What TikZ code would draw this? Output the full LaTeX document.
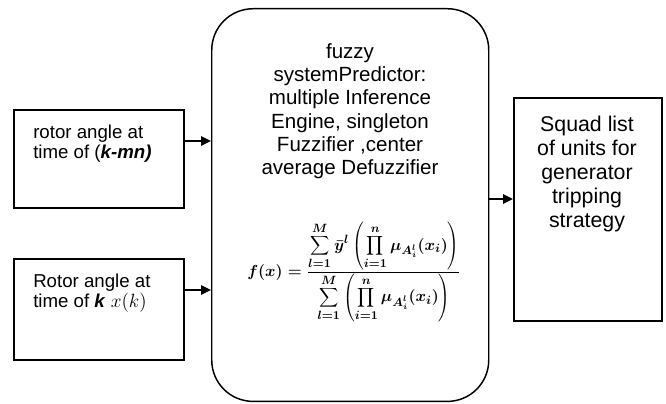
\documentclass[tikz,border=0pt]{standalone}
\usepackage{fontspec}
\setmainfont{Liberation Sans}
\usetikzlibrary{arrows.meta}
\newcommand\fzformula{\ensuremath{\displaystyle f(x)=\frac{\displaystyle\sum_{l=1}^{M}\bar{y}^{l}\left(\prod_{i=1}^{n}\mu_{A_i^l}(x_i)\right)}{\displaystyle\sum_{l=1}^{M}\left(\prod_{i=1}^{n}\mu_{A_i^l}(x_i)\right)}}}
\begin{document}
\begin{tikzpicture}[x=0.75pt,y=-0.75pt,
  box/.style={draw=black,line width=1.5pt,rectangle,anchor=north west,inner sep=0pt},
  mainbox/.style={draw=black,line width=1.1pt,rectangle,rounded corners=31pt,anchor=north west,inner sep=0pt},
  arr/.style={line width=1.5pt,-{Triangle[length=7.5pt,width=7pt]}},
  ltxt/.style={anchor=north west,inner sep=0pt,align=left,font=\fontsize{14}{15}\selectfont},
]
\useasboundingbox (0,0) rectangle (666,403);
\node[box,minimum width=127.5pt,minimum height=73.5pt] (b1) at (13,109) {};
\node[box,minimum width=127.5pt,minimum height=75.75pt] (b2) at (13,258) {};
\node[mainbox,minimum width=207.75pt,minimum height=294.5pt] (m) at (211,8) {};
\node[box,minimum width=111pt,minimum height=167.25pt] (r) at (513,97) {};

\node[ltxt] (t1) at (33,124.5) {rotor angle at\\time of (\textbf{\textit{k-mn)}}};
\node[ltxt] (t2) at (33,273.6) {Rotor angle at\\time of \textbf{\textit{k}} $x(k)$};
\node[anchor=north,inner sep=0pt,align=center,font=\fontsize{15.4}{17.5}\selectfont] (tm) at (350,43)
  {fuzzy\\systemPredictor:\\multiple Inference\\Engine, singleton\\Fuzzifier ,center\\average Defuzzifier};
\node[anchor=north,inner sep=0pt,align=center,font=\fontsize{16}{18}\selectfont] (tr) at (587,116)
  {Squad list\\of units for\\generator\\tripping\\strategy};
\node[anchor=west,inner sep=0pt,font=\fontsize{13}{15}\selectfont\boldmath] (formula) at (247,272) {\fzformula};

\coordinate (a1) at (0,141);
\coordinate (a2) at (0,290);
\coordinate (a3) at (0,199);
\draw[arr] (b1.east |- a1) -- (m.west |- a1);
\draw[arr] (b2.east |- a2) -- (m.west |- a2);
\draw[arr] (m.east |- a3) -- (r.west |- a3);
\end{tikzpicture}
\end{document}
